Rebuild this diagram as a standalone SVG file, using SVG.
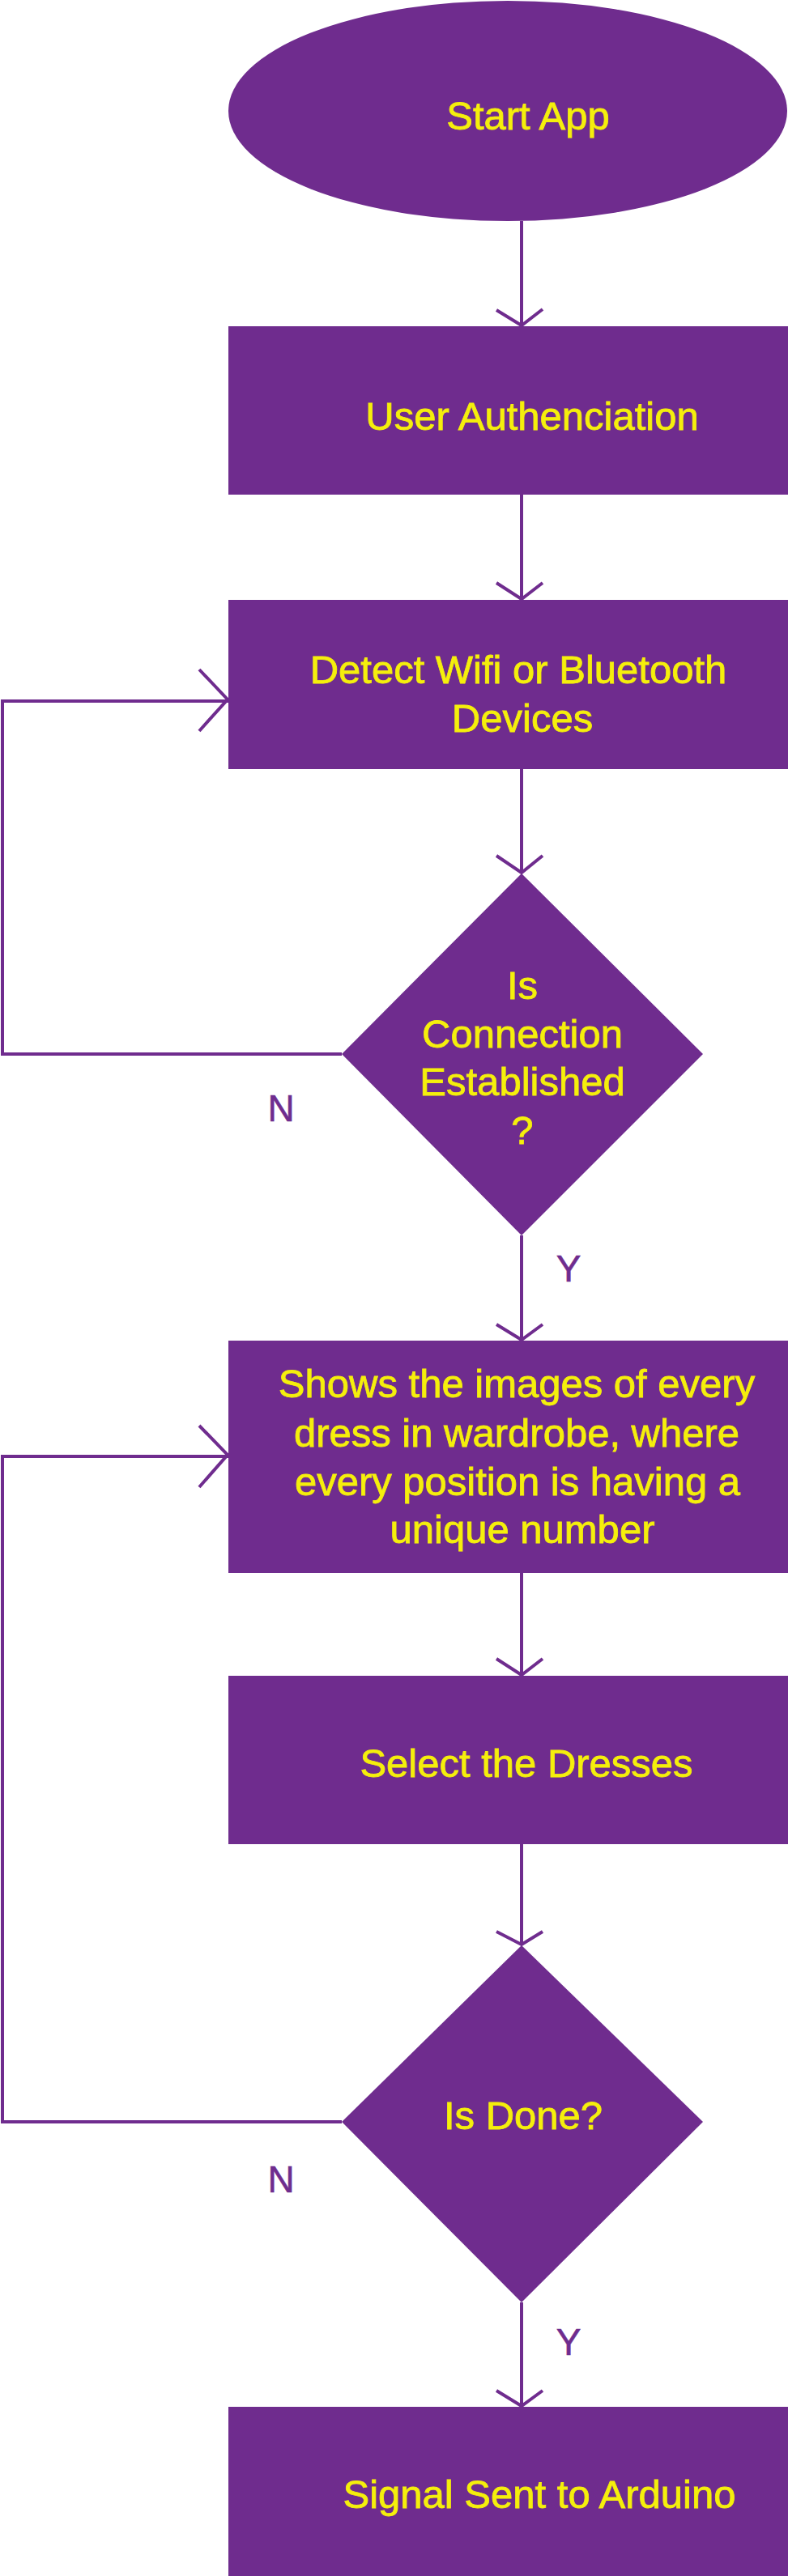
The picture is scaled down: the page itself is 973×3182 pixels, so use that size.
<svg xmlns="http://www.w3.org/2000/svg" width="973" height="3182" viewBox="0 0 973 3182">
<style>
.shape{fill:#6F2C8E;}
.lbl{fill:#F5EF0C;stroke:#F5EF0C;stroke-width:0.8;font-family:"Liberation Sans",Arial,sans-serif;font-size:49px;text-anchor:middle;}
.yn{fill:#6F2C8E;stroke:#6F2C8E;stroke-width:0.6;font-family:"Liberation Sans",Arial,sans-serif;font-size:46px;text-anchor:middle;}
.conn{fill:none;stroke:#6F2C8E;stroke-width:4;}
</style>
<rect width="973" height="3182" fill="#ffffff"/>
<g id="connectors">
<path class="conn" d="M644 273V402M613 383L644 402L670 382"/>
<path class="conn" d="M644 611V740M613 720L644 740L670 720"/>
<path class="conn" d="M644 950V1078M613 1057L644 1078L670 1057"/>
<path class="conn" d="M644 1526V1655M613 1636L644 1655L670 1636"/>
<path class="conn" d="M644 1943V2069M613 2049L644 2069L670 2049"/>
<path class="conn" d="M644 2278V2402M613 2386L644 2402L670 2386"/>
<path class="conn" d="M644 2844V2972M613 2953L644 2972L670 2953"/>
<path class="conn" d="M422 1302H3V866H282M246 827L281 864L246 903"/>
<path class="conn" d="M422 2621H3V1799H282M246 1761L281 1797L246 1837"/>
<text class="yn" x="347" y="1385">N</text>
<text class="yn" x="702" y="1583">Y</text>
<text class="yn" x="347" y="2708">N</text>
<text class="yn" x="702" y="2909">Y</text>
</g>
<g id="start">
<ellipse class="shape" cx="627" cy="137" rx="345" ry="136"/>
<text class="lbl" x="652" y="160">Start App</text>
</g>
<g id="auth">
<rect class="shape" x="282" y="403" width="691" height="208"/>
<text class="lbl" x="657" y="531">User Authenciation</text>
</g>
<g id="detect">
<rect class="shape" x="282" y="741" width="691" height="209"/>
<text class="lbl" x="640" y="844">Detect Wifi or Bluetooth</text>
<text class="lbl" x="645" y="904">Devices</text>
</g>
<g id="connected">
<polygon class="shape" points="644,1079 868,1302 644,1526 422,1302"/>
<text class="lbl" x="645" y="1234">Is</text>
<text class="lbl" x="645" y="1294">Connection</text>
<text class="lbl" x="645" y="1353">Established</text>
<text class="lbl" x="645" y="1413">?</text>
</g>
<g id="shows">
<rect class="shape" x="282" y="1656" width="691" height="287"/>
<text class="lbl" x="638" y="1726">Shows the images of every</text>
<text class="lbl" x="638" y="1787">dress in wardrobe, where</text>
<text class="lbl" x="639" y="1847">every position is having a</text>
<text class="lbl" x="645" y="1906">unique number</text>
</g>
<g id="select">
<rect class="shape" x="282" y="2070" width="691" height="208"/>
<text class="lbl" x="650" y="2195">Select the Dresses</text>
</g>
<g id="done">
<polygon class="shape" points="644,2403 868,2621 644,2844 422,2621"/>
<text class="lbl" x="646" y="2630">Is Done?</text>
</g>
<g id="signal">
<rect class="shape" x="282" y="2973" width="691" height="209"/>
<text class="lbl" x="666" y="3098">Signal Sent to Arduino</text>
</g>
</svg>
